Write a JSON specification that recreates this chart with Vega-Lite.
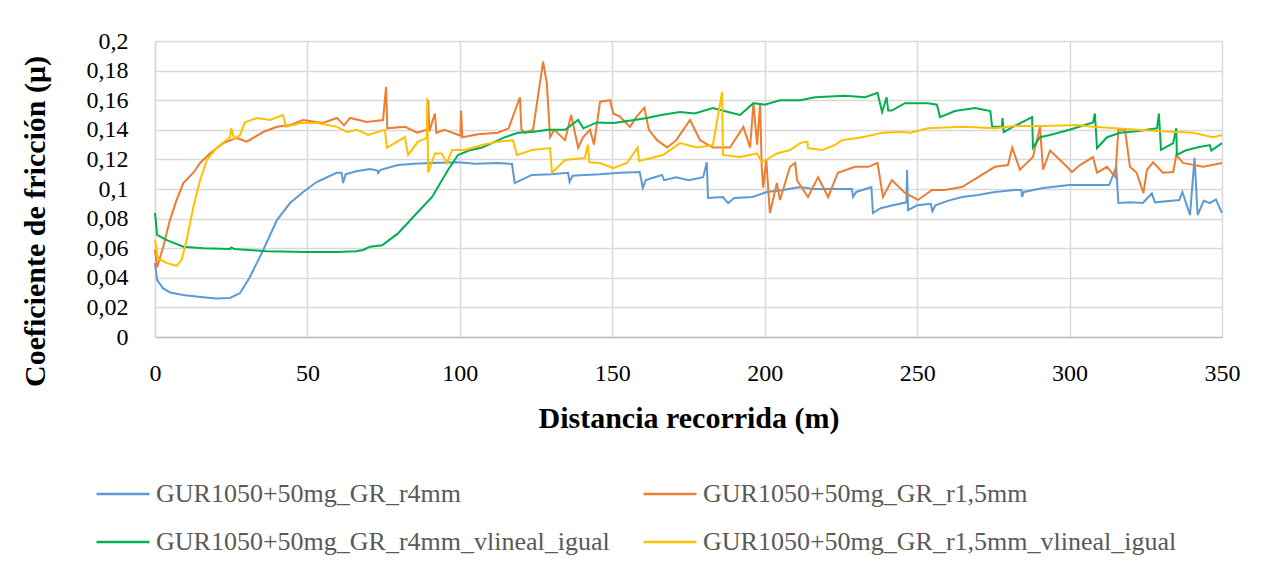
{
"$schema": "https://vega.github.io/schema/vega-lite/v6.json",
"width": 1067, "height": 296,
"autosize": {"type": "none"},
"padding": {"left": 155, "top": 41, "right": 51, "bottom": 235},
"background": "white",
"config": {"view": {"stroke": null}, "font": "Liberation Serif"},
"datasets": {
"names": [
{"k": "a", "serie": "GUR1050+50mg_GR_r4mm"},
{"k": "b", "serie": "GUR1050+50mg_GR_r1,5mm"},
{"k": "c", "serie": "GUR1050+50mg_GR_r4mm_vlineal_igual"},
{"k": "d", "serie": "GUR1050+50mg_GR_r1,5mm_vlineal_igual"}
]
},
"data": {"values": [
{"k":"a","d":0,"mu":0.050},{"k":"a","d":0.7,"mu":0.0385},{"k":"a","d":2.6,"mu":0.033},{"k":"a","d":5,"mu":0.030},{"k":"a","d":9.2,"mu":0.0284},{"k":"a","d":15,"mu":0.027},{"k":"a","d":20,"mu":0.026},{"k":"a","d":24.6,"mu":0.0264},{"k":"a","d":27.9,"mu":0.0297},{"k":"a","d":31,"mu":0.040},{"k":"a","d":35.5,"mu":0.0588},{"k":"a","d":40,"mu":0.079},{"k":"a","d":44.3,"mu":0.0905},{"k":"a","d":48.6,"mu":0.098},{"k":"a","d":53,"mu":0.1047},{"k":"a","d":59.6,"mu":0.111},{"k":"a","d":61.2,"mu":0.111},{"k":"a","d":61.7,"mu":0.104},{"k":"a","d":62.5,"mu":0.110},{"k":"a","d":66,"mu":0.112},{"k":"a","d":70.5,"mu":0.1135},{"k":"a","d":73,"mu":0.1125},{"k":"a","d":73.2,"mu":0.1108},{"k":"a","d":74,"mu":0.113},{"k":"a","d":79.7,"mu":0.1162},{"k":"a","d":85,"mu":0.117},{"k":"a","d":90.9,"mu":0.1176},{"k":"a","d":99.5,"mu":0.118},{"k":"a","d":105,"mu":0.117},{"k":"a","d":112.5,"mu":0.1176},{"k":"a","d":117.1,"mu":0.1169},{"k":"a","d":118,"mu":0.104},{"k":"a","d":123.6,"mu":0.1095},{"k":"a","d":130,"mu":0.110},{"k":"a","d":135.5,"mu":0.111},{"k":"a","d":136,"mu":0.1047},{"k":"a","d":137,"mu":0.109},{"k":"a","d":141,"mu":0.1095},{"k":"a","d":146,"mu":0.110},{"k":"a","d":152.5,"mu":0.111},{"k":"a","d":159,"mu":0.1115},{"k":"a","d":160,"mu":0.1007},{"k":"a","d":161,"mu":0.106},{"k":"a","d":166.3,"mu":0.1095},{"k":"a","d":167,"mu":0.106},{"k":"a","d":171,"mu":0.108},{"k":"a","d":175,"mu":0.106},{"k":"a","d":179.8,"mu":0.108},{"k":"a","d":181,"mu":0.118},{"k":"a","d":181.4,"mu":0.094},{"k":"a","d":186.3,"mu":0.0946},{"k":"a","d":188,"mu":0.0905},{"k":"a","d":190,"mu":0.094},{"k":"a","d":196,"mu":0.0946},{"k":"a","d":200.7,"mu":0.098},{"k":"a","d":205,"mu":0.099},{"k":"a","d":211.6,"mu":0.1013},{"k":"a","d":216,"mu":0.100},{"k":"a","d":222,"mu":0.100},{"k":"a","d":228.6,"mu":0.100},{"k":"a","d":229,"mu":0.0946},{"k":"a","d":230,"mu":0.098},{"k":"a","d":235,"mu":0.1013},{"k":"a","d":235.5,"mu":0.0838},{"k":"a","d":238,"mu":0.087},{"k":"a","d":242,"mu":0.089},{"k":"a","d":246.5,"mu":0.091},{"k":"a","d":246.7,"mu":0.1128},{"k":"a","d":247,"mu":0.0858},{"k":"a","d":250,"mu":0.089},{"k":"a","d":254.5,"mu":0.090},{"k":"a","d":255,"mu":0.085},{"k":"a","d":256,"mu":0.089},{"k":"a","d":260,"mu":0.092},{"k":"a","d":264.7,"mu":0.0946},{"k":"a","d":270,"mu":0.096},{"k":"a","d":275.5,"mu":0.098},{"k":"a","d":282,"mu":0.0993},{"k":"a","d":284.2,"mu":0.0993},{"k":"a","d":284.4,"mu":0.0946},{"k":"a","d":285,"mu":0.098},{"k":"a","d":291.3,"mu":0.1007},{"k":"a","d":300,"mu":0.1027},{"k":"a","d":313,"mu":0.1027},{"k":"a","d":315.3,"mu":0.115},{"k":"a","d":316,"mu":0.0905},{"k":"a","d":320,"mu":0.091},{"k":"a","d":324,"mu":0.0905},{"k":"a","d":327,"mu":0.097},{"k":"a","d":328,"mu":0.091},{"k":"a","d":336,"mu":0.0926},{"k":"a","d":337,"mu":0.098},{"k":"a","d":339.5,"mu":0.0824},{"k":"a","d":341,"mu":0.121},{"k":"a","d":342,"mu":0.0824},{"k":"a","d":344,"mu":0.092},{"k":"a","d":346,"mu":0.0905},{"k":"a","d":348,"mu":0.093},{"k":"a","d":350,"mu":0.0838},
{"k":"b","d":0,"mu":0.059},{"k":"b","d":0.7,"mu":0.047},{"k":"b","d":2.7,"mu":0.061},{"k":"b","d":4.9,"mu":0.079},{"k":"b","d":7.1,"mu":0.0926},{"k":"b","d":9.3,"mu":0.104},{"k":"b","d":12.6,"mu":0.111},{"k":"b","d":14.8,"mu":0.1176},{"k":"b","d":18,"mu":0.124},{"k":"b","d":22.4,"mu":0.131},{"k":"b","d":26.8,"mu":0.1345},{"k":"b","d":30.1,"mu":0.132},{"k":"b","d":35.5,"mu":0.1385},{"k":"b","d":40,"mu":0.142},{"k":"b","d":44,"mu":0.143},{"k":"b","d":48.6,"mu":0.1466},{"k":"b","d":55,"mu":0.1446},{"k":"b","d":59.7,"mu":0.148},{"k":"b","d":62,"mu":0.143},{"k":"b","d":64,"mu":0.148},{"k":"b","d":69.5,"mu":0.1453},{"k":"b","d":74.8,"mu":0.1466},{"k":"b","d":75.8,"mu":0.169},{"k":"b","d":76.2,"mu":0.141},{"k":"b","d":82,"mu":0.142},{"k":"b","d":86,"mu":0.138},{"k":"b","d":89.2,"mu":0.140},{"k":"b","d":89.6,"mu":0.160},{"k":"b","d":90,"mu":0.139},{"k":"b","d":91.8,"mu":0.151},{"k":"b","d":92.3,"mu":0.138},{"k":"b","d":95,"mu":0.140},{"k":"b","d":100.2,"mu":0.136},{"k":"b","d":100.4,"mu":0.153},{"k":"b","d":100.8,"mu":0.135},{"k":"b","d":106,"mu":0.137},{"k":"b","d":112.5,"mu":0.138},{"k":"b","d":116,"mu":0.141},{"k":"b","d":119.7,"mu":0.162},{"k":"b","d":120.2,"mu":0.140},{"k":"b","d":121.4,"mu":0.138},{"k":"b","d":124,"mu":0.140},{"k":"b","d":127.3,"mu":0.186},{"k":"b","d":128.5,"mu":0.172},{"k":"b","d":129.6,"mu":0.135},{"k":"b","d":131,"mu":0.140},{"k":"b","d":134.5,"mu":0.133},{"k":"b","d":136.5,"mu":0.150},{"k":"b","d":138.8,"mu":0.128},{"k":"b","d":140.4,"mu":0.135},{"k":"b","d":142.7,"mu":0.140},{"k":"b","d":144,"mu":0.130},{"k":"b","d":146,"mu":0.159},{"k":"b","d":149.3,"mu":0.160},{"k":"b","d":150.3,"mu":0.151},{"k":"b","d":152.5,"mu":0.149},{"k":"b","d":155.8,"mu":0.142},{"k":"b","d":158,"mu":0.149},{"k":"b","d":160.5,"mu":0.155},{"k":"b","d":162,"mu":0.140},{"k":"b","d":164.7,"mu":0.133},{"k":"b","d":168,"mu":0.128},{"k":"b","d":171,"mu":0.133},{"k":"b","d":175.5,"mu":0.1466},{"k":"b","d":178.8,"mu":0.133},{"k":"b","d":183,"mu":0.128},{"k":"b","d":188.6,"mu":0.128},{"k":"b","d":193,"mu":0.142},{"k":"b","d":195.2,"mu":0.128},{"k":"b","d":196.3,"mu":0.158},{"k":"b","d":197.5,"mu":0.130},{"k":"b","d":198.5,"mu":0.158},{"k":"b","d":199,"mu":0.115},{"k":"b","d":199.5,"mu":0.101},{"k":"b","d":200.5,"mu":0.120},{"k":"b","d":201.7,"mu":0.0838},{"k":"b","d":204,"mu":0.104},{"k":"b","d":205,"mu":0.0926},{"k":"b","d":208.3,"mu":0.115},{"k":"b","d":210,"mu":0.1176},{"k":"b","d":210.6,"mu":0.106},{"k":"b","d":212,"mu":0.1013},{"k":"b","d":214.2,"mu":0.0946},{"k":"b","d":217.5,"mu":0.108},{"k":"b","d":220.8,"mu":0.0946},{"k":"b","d":224,"mu":0.111},{"k":"b","d":229.6,"mu":0.115},{"k":"b","d":234,"mu":0.115},{"k":"b","d":237,"mu":0.1176},{"k":"b","d":238.8,"mu":0.0946},{"k":"b","d":241.7,"mu":0.106},{"k":"b","d":246,"mu":0.0973},{"k":"b","d":250.3,"mu":0.0926},{"k":"b","d":254.9,"mu":0.0993},{"k":"b","d":259,"mu":0.0993},{"k":"b","d":264.7,"mu":0.1013},{"k":"b","d":270,"mu":0.108},{"k":"b","d":275.5,"mu":0.115},{"k":"b","d":279.8,"mu":0.1162},{"k":"b","d":281.2,"mu":0.128},{"k":"b","d":283.7,"mu":0.113},{"k":"b","d":288,"mu":0.1216},{"k":"b","d":290.3,"mu":0.142},{"k":"b","d":291.3,"mu":0.113},{"k":"b","d":293.6,"mu":0.126},{"k":"b","d":297.9,"mu":0.1176},{"k":"b","d":300.8,"mu":0.1115},{"k":"b","d":303.4,"mu":0.1162},{"k":"b","d":307.7,"mu":0.1216},{"k":"b","d":309,"mu":0.111},{"k":"b","d":312.3,"mu":0.115},{"k":"b","d":315,"mu":0.108},{"k":"b","d":316,"mu":0.140},{"k":"b","d":318.2,"mu":0.140},{"k":"b","d":319.8,"mu":0.115},{"k":"b","d":322,"mu":0.111},{"k":"b","d":324.2,"mu":0.0973},{"k":"b","d":325.4,"mu":0.113},{"k":"b","d":327.4,"mu":0.118},{"k":"b","d":330.6,"mu":0.111},{"k":"b","d":334,"mu":0.1115},{"k":"b","d":335,"mu":0.123},{"k":"b","d":337.2,"mu":0.1176},{"k":"b","d":343.8,"mu":0.115},{"k":"b","d":350,"mu":0.1176},
{"k":"c","d":0,"mu":0.0838},{"k":"c","d":0.7,"mu":0.069},{"k":"c","d":3.9,"mu":0.0655},{"k":"c","d":9.3,"mu":0.061},{"k":"c","d":15.9,"mu":0.060},{"k":"c","d":24.6,"mu":0.0595},{"k":"c","d":25,"mu":0.0605},{"k":"c","d":26,"mu":0.0595},{"k":"c","d":36.7,"mu":0.058},{"k":"c","d":49.9,"mu":0.0574},{"k":"c","d":59.7,"mu":0.0574},{"k":"c","d":66,"mu":0.058},{"k":"c","d":68.3,"mu":0.0588},{"k":"c","d":70.5,"mu":0.061},{"k":"c","d":74.5,"mu":0.062},{"k":"c","d":79.7,"mu":0.070},{"k":"c","d":85.3,"mu":0.0824},{"k":"c","d":90.9,"mu":0.0946},{"k":"c","d":96.1,"mu":0.1128},{"k":"c","d":99.4,"mu":0.123},{"k":"c","d":103,"mu":0.126},{"k":"c","d":107.3,"mu":0.128},{"k":"c","d":114.8,"mu":0.135},{"k":"c","d":119.1,"mu":0.138},{"k":"c","d":123.7,"mu":0.1385},{"k":"c","d":128.9,"mu":0.140},{"k":"c","d":134.5,"mu":0.140},{"k":"c","d":138.8,"mu":0.1466},{"k":"c","d":140.5,"mu":0.141},{"k":"c","d":145,"mu":0.145},{"k":"c","d":150.3,"mu":0.1446},{"k":"c","d":155,"mu":0.146},{"k":"c","d":161.4,"mu":0.148},{"k":"c","d":166,"mu":0.150},{"k":"c","d":172.2,"mu":0.152},{"k":"c","d":177,"mu":0.151},{"k":"c","d":183,"mu":0.1547},{"k":"c","d":188,"mu":0.152},{"k":"c","d":191.9,"mu":0.150},{"k":"c","d":196.3,"mu":0.158},{"k":"c","d":200,"mu":0.157},{"k":"c","d":205,"mu":0.160},{"k":"c","d":211.6,"mu":0.160},{"k":"c","d":216.5,"mu":0.162},{"k":"c","d":226.3,"mu":0.163},{"k":"c","d":233,"mu":0.162},{"k":"c","d":237,"mu":0.165},{"k":"c","d":238.5,"mu":0.152},{"k":"c","d":240,"mu":0.162},{"k":"c","d":240.5,"mu":0.153},{"k":"c","d":241.7,"mu":0.153},{"k":"c","d":246,"mu":0.158},{"k":"c","d":253.6,"mu":0.158},{"k":"c","d":256.5,"mu":0.157},{"k":"c","d":257.5,"mu":0.1486},{"k":"c","d":262.4,"mu":0.1527},{"k":"c","d":269,"mu":0.1547},{"k":"c","d":274,"mu":0.1527},{"k":"c","d":274.6,"mu":0.142},{"k":"c","d":277.8,"mu":0.142},{"k":"c","d":278,"mu":0.148},{"k":"c","d":278.4,"mu":0.1385},{"k":"c","d":282,"mu":0.1426},{"k":"c","d":287.7,"mu":0.1486},{"k":"c","d":288,"mu":0.128},{"k":"c","d":290.3,"mu":0.135},{"k":"c","d":293.6,"mu":0.1365},{"k":"c","d":300,"mu":0.140},{"k":"c","d":307.7,"mu":0.145},{"k":"c","d":308.3,"mu":0.151},{"k":"c","d":309,"mu":0.1277},{"k":"c","d":312.3,"mu":0.135},{"k":"c","d":316.5,"mu":0.138},{"k":"c","d":322,"mu":0.139},{"k":"c","d":328.7,"mu":0.141},{"k":"c","d":329.3,"mu":0.151},{"k":"c","d":330,"mu":0.1264},{"k":"c","d":334,"mu":0.131},{"k":"c","d":335,"mu":0.141},{"k":"c","d":335.2,"mu":0.123},{"k":"c","d":338,"mu":0.126},{"k":"c","d":341.8,"mu":0.128},{"k":"c","d":346,"mu":0.1297},{"k":"c","d":346.5,"mu":0.126},{"k":"c","d":350,"mu":0.131},
{"k":"d","d":0,"mu":0.0655},{"k":"d","d":1,"mu":0.053},{"k":"d","d":3.9,"mu":0.050},{"k":"d","d":7.1,"mu":0.048},{"k":"d","d":8.7,"mu":0.052},{"k":"d","d":10.4,"mu":0.0655},{"k":"d","d":12.6,"mu":0.088},{"k":"d","d":14.8,"mu":0.106},{"k":"d","d":17,"mu":0.1196},{"k":"d","d":20.3,"mu":0.128},{"k":"d","d":24.6,"mu":0.135},{"k":"d","d":25,"mu":0.141},{"k":"d","d":26,"mu":0.134},{"k":"d","d":27.9,"mu":0.1365},{"k":"d","d":29.5,"mu":0.145},{"k":"d","d":33.5,"mu":0.148},{"k":"d","d":37.7,"mu":0.1466},{"k":"d","d":42,"mu":0.150},{"k":"d","d":43,"mu":0.142},{"k":"d","d":47.6,"mu":0.1446},{"k":"d","d":53,"mu":0.1446},{"k":"d","d":59.7,"mu":0.142},{"k":"d","d":63,"mu":0.1385},{"k":"d","d":66.3,"mu":0.140},{"k":"d","d":69.9,"mu":0.1365},{"k":"d","d":75.4,"mu":0.140},{"k":"d","d":76.1,"mu":0.128},{"k":"d","d":82,"mu":0.135},{"k":"d","d":83,"mu":0.123},{"k":"d","d":86.3,"mu":0.132},{"k":"d","d":89.2,"mu":0.1345},{"k":"d","d":89.3,"mu":0.1615},{"k":"d","d":89.6,"mu":0.111},{"k":"d","d":91.8,"mu":0.124},{"k":"d","d":94,"mu":0.124},{"k":"d","d":95.8,"mu":0.1176},{"k":"d","d":97.4,"mu":0.1263},{"k":"d","d":101.7,"mu":0.1263},{"k":"d","d":107.3,"mu":0.1297},{"k":"d","d":112.5,"mu":0.132},{"k":"d","d":117.4,"mu":0.133},{"k":"d","d":118.7,"mu":0.123},{"k":"d","d":123.7,"mu":0.1263},{"k":"d","d":129.6,"mu":0.1277},{"k":"d","d":130.2,"mu":0.111},{"k":"d","d":134.5,"mu":0.1196},{"k":"d","d":141,"mu":0.121},{"k":"d","d":142,"mu":0.130},{"k":"d","d":142.5,"mu":0.118},{"k":"d","d":146,"mu":0.1176},{"k":"d","d":150.3,"mu":0.114},{"k":"d","d":154.8,"mu":0.1176},{"k":"d","d":158.3,"mu":0.128},{"k":"d","d":158.8,"mu":0.119},{"k":"d","d":166.6,"mu":0.123},{"k":"d","d":172.2,"mu":0.131},{"k":"d","d":177.8,"mu":0.128},{"k":"d","d":183,"mu":0.1297},{"k":"d","d":186,"mu":0.1655},{"k":"d","d":186.3,"mu":0.123},{"k":"d","d":191.9,"mu":0.1216},{"k":"d","d":197.5,"mu":0.124},{"k":"d","d":199.1,"mu":0.118},{"k":"d","d":204,"mu":0.124},{"k":"d","d":208.3,"mu":0.1263},{"k":"d","d":211.6,"mu":0.131},{"k":"d","d":214,"mu":0.132},{"k":"d","d":214.2,"mu":0.1277},{"k":"d","d":218.8,"mu":0.1263},{"k":"d","d":223,"mu":0.1297},{"k":"d","d":225.3,"mu":0.133},{"k":"d","d":232,"mu":0.135},{"k":"d","d":238.5,"mu":0.138},{"k":"d","d":245,"mu":0.1385},{"k":"d","d":247.7,"mu":0.138},{"k":"d","d":253.6,"mu":0.141},{"k":"d","d":264.7,"mu":0.142},{"k":"d","d":275.5,"mu":0.141},{"k":"d","d":282,"mu":0.1426},{"k":"d","d":291.3,"mu":0.1426},{"k":"d","d":302.4,"mu":0.1432},{"k":"d","d":307.7,"mu":0.142},{"k":"d","d":318.8,"mu":0.1405},{"k":"d","d":329.7,"mu":0.139},{"k":"d","d":340.5,"mu":0.138},{"k":"d","d":347,"mu":0.135},{"k":"d","d":350,"mu":0.1365}
]},
"transform": [
{"lookup": "k", "from": {"data": {"name": "names"}, "key": "k", "fields": ["serie"]}}
],
"mark": {"type": "line", "strokeWidth": 2, "interpolate": "linear"},
"encoding": {
"x": {"field": "d", "type": "quantitative",
 "scale": {"domain": [0, 350], "nice": false, "zero": true},
 "axis": {"values": [0,50,100,150,200,250,300,350], "title": "Distancia recorrida (m)",
  "grid": true, "gridColor": "#d9d9d9", "gridWidth": 1.5, "ticks": false, "labelFlush": false,
  "domainColor": "#bfbfbf", "domainWidth": 1.5,
  "labelFontSize": 24, "labelColor": "#000000", "labelPadding": 24, "labelFont": "Liberation Serif",
  "titleFontSize": 30, "titleFontWeight": "bold", "titleColor": "#000000", "titleFont": "Liberation Serif",
  "titleY": 81, "titleBaseline": "middle"}},
"y": {"field": "mu", "type": "quantitative",
 "scale": {"domain": [0, 0.2], "nice": false},
 "axis": {"values": [0,0.02,0.04,0.06,0.08,0.1,0.12,0.14,0.16,0.18,0.2],
  "labelExpr": "replace(format(datum.value, '~g'), '.', ',')", "labelFlush": false,
  "title": "Coeficiente de fricción (μ)",
  "grid": true, "gridColor": "#d9d9d9", "gridWidth": 1.5, "ticks": false, "domain": true,
  "domainColor": "#d9d9d9", "domainWidth": 1.5,
  "labelFontSize": 24, "labelColor": "#000000", "labelPadding": 27, "labelFont": "Liberation Serif",
  "titleFontSize": 30, "titleFontWeight": "bold", "titleColor": "#000000", "titleFont": "Liberation Serif",
  "titleX": -120, "titleY": 180, "titleBaseline": "middle", "titleAngle": -90, "titleAlign": "center"}},
"color": {"field": "serie", "type": "nominal",
 "scale": {"domain": ["GUR1050+50mg_GR_r4mm", "GUR1050+50mg_GR_r4mm_vlineal_igual", "GUR1050+50mg_GR_r1,5mm", "GUR1050+50mg_GR_r1,5mm_vlineal_igual"],
  "range": ["#5B9BD5", "#00B050", "#ED7D31", "#FFC000"]},
 "legend": {"title": null, "orient": "none", "legendX": -60, "legendY": 425, "columns": 2,
  "columnPadding": 28, "rowPadding": 7, "symbolType": "stroke", "symbolSize": 2809, "symbolStrokeWidth": 2.5,
  "labelFontSize": 26, "labelColor": "#595959", "labelFont": "Liberation Serif", "labelLimit": 800, "labelOffset": 5}},
"detail": {"field": "k"}
}
}
